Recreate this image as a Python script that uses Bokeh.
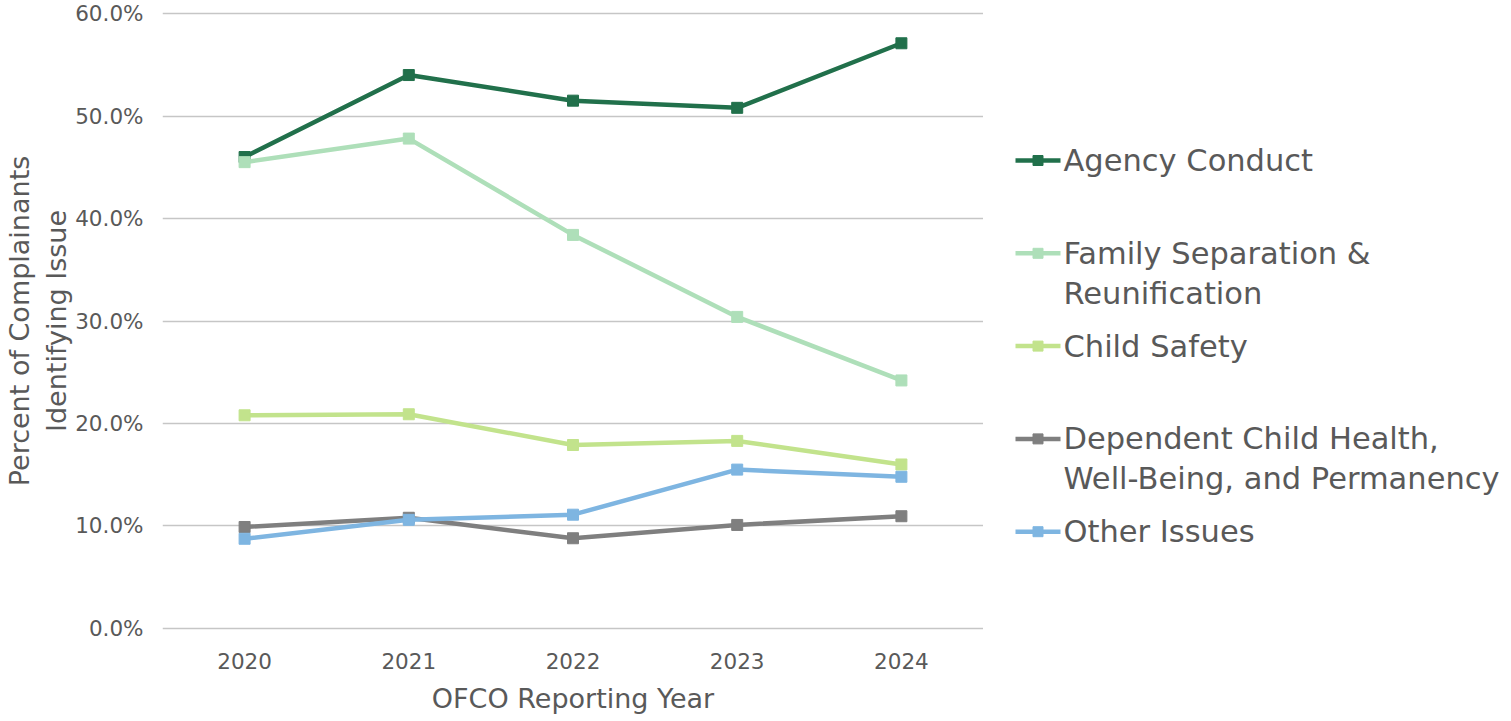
from bokeh.plotting import figure
from bokeh.models import Range1d, FactorRange, PrintfTickFormatter, FixedTicker, ColumnDataSource
from bokeh.layouts import row
from bokeh.embed import file_html
from bokeh.resources import INLINE
from bokeh.core.properties import value

# ---- data ----
years = ["2020", "2021", "2022", "2023", "2024"]
series_names = [
    "Agency Conduct",
    "Family Separation &\nReunification",
    "Child Safety",
    "Dependent Child Health,\nWell-Being, and Permanency",
    "Other Issues",
]
agency_conduct = [46.0, 54.0, 51.5, 50.8, 57.1]
family_separation = [45.5, 47.8, 38.4, 30.4, 24.2]
child_safety = [20.8, 20.9, 17.9, 18.3, 16.0]
dependent_child = [9.9, 10.8, 8.8, 10.1, 10.95]
other_issues = [8.75, 10.6, 11.1, 15.5, 14.8]
y_ticks = [0, 10, 20, 30, 40, 50, 60]

series_values = [agency_conduct, family_separation, child_safety, dependent_child, other_issues]
colors = ["#21704B", "#AEDFB9", "#C2E38C", "#7F7F7F", "#7EB5E1"]

FONT = "DejaVu Sans"
TEXT = "#595959"
TOP = 11
FH = 619
BOTTOM = 85

# ---- main chart ----
p = figure(
    x_range=FactorRange(*years), y_range=Range1d(-0.2, 60.2),
    frame_width=821, frame_height=FH,
    min_border_left=154, min_border_right=0, min_border_top=TOP, min_border_bottom=BOTTOM,
    output_backend="svg", toolbar_location=None,
)
p.outline_line_color = None
p.background_fill_color = "white"
p.border_fill_color = "white"

for vals, col in zip(series_values, colors):
    src = ColumnDataSource(dict(x=years, y=vals))
    p.line("x", "y", source=src, line_color=col, line_width=4.5, line_join="round")
    p.scatter("x", "y", source=src, marker="square", size=11, fill_color=col, line_color=col)

p.yaxis.ticker = FixedTicker(ticks=y_ticks)
p.yaxis.formatter = PrintfTickFormatter(format="%.1f%%")
p.xgrid.grid_line_color = None
p.ygrid.grid_line_color = "#C6C6C6"
p.ygrid.grid_line_width = 1.6

for ax in (p.xaxis, p.yaxis):
    ax.axis_line_color = None
    ax.major_tick_line_color = None
    ax.minor_tick_line_color = None
    ax.major_tick_out = 0
    ax.major_label_text_font = FONT
    ax.major_label_text_font_size = "21.5px"
    ax.major_label_text_color = TEXT
    ax.axis_label_text_font = FONT
    ax.axis_label_text_font_size = "27px"
    ax.axis_label_text_font_style = "normal"
    ax.axis_label_text_color = TEXT

p.xaxis.axis_label = "OFCO Reporting Year"
p.xaxis.major_label_standoff = 22
p.xaxis.axis_label_standoff = 11
p.yaxis.axis_label = "Percent of Complainants\nIdentifying Issue"
p.yaxis.major_label_standoff = 19
p.yaxis.axis_label_standoff = 0

# ---- legend panel (data coordinates = page pixels) ----
lf = figure(
    frame_width=520, frame_height=FH,
    x_range=Range1d(983, 1503), y_range=Range1d(TOP + FH, TOP),
    min_border_left=0, min_border_right=0, min_border_top=TOP, min_border_bottom=BOTTOM,
    output_backend="svg", toolbar_location=None,
)
lf.axis.visible = False
lf.grid.visible = False
lf.outline_line_color = None

tx, ty, txt, ly = [], [], [], []
for i, name in enumerate(series_names):
    y0 = 160 + 92.8 * i
    ly.append(y0)
    for j, line in enumerate(name.split("\n")):
        tx.append(1063)
        ty.append(y0 + 40 * j)
        txt.append(line)

n = len(series_names)
lf.segment(x0=[1015] * n, x1=[1060] * n, y0=ly, y1=ly, line_color=colors, line_width=4.5)
lf.scatter(x=[1037.5] * n, y=ly, marker="square", size=10, fill_color=colors, line_color=colors)
lf.text(x=tx, y=ty, text=txt, text_font=value(FONT), text_font_size="30.5px",
        text_color=TEXT, text_baseline="middle", text_align="left")

layout = row(p, lf)
open("out.html", "w").write(file_html(layout, INLINE))
